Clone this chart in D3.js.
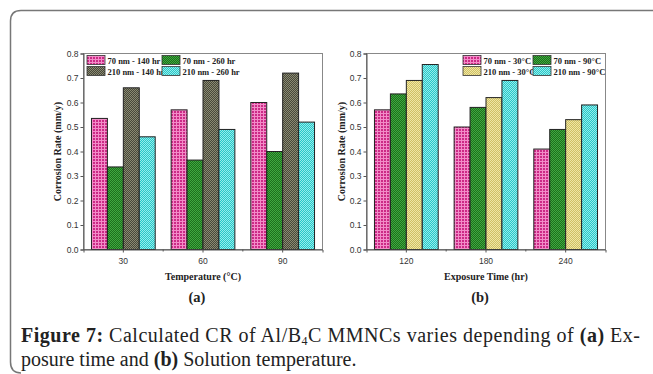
<!DOCTYPE html>
<html>
<head>
<meta charset="utf-8">
<script src="https://cdn.jsdelivr.net/npm/d3@7"></script>
<style>
  body { margin: 0; background: #fff; }
  svg { display: block; }
  .tick text { font-family: "Liberation Sans", Arial, sans-serif; font-size: 8.5px; fill: #333; }
  .ttl { font-family: "Liberation Serif", "Times New Roman", serif; font-weight: bold; fill: #222; }
</style>
</head>
<body>
<svg id="chart" width="653" height="374"></svg>
<script>
// chart (a): temperature
const tempCats = ["30", "60", "90"];
const tempSeries = ["70 nm - 140 hr", "70 nm - 260 hr", "210 nm - 140 hr", "210 nm - 260 hr"];
const tempValues = [
	[0.535, 0.57, 0.60],
	[0.337, 0.365, 0.40],
	[0.66, 0.69, 0.72],
	[0.46, 0.49, 0.52]
];

// chart (b): exposure time
const timeCats = ["120", "180", "240"];
const timeSeries = ["70 nm - 30°C", "70 nm - 90°C", "210 nm - 30°C", "210 nm - 90°C"];
const timeValues = [
	[0.57, 0.50, 0.41],
	[0.635, 0.58, 0.49],
	[0.69, 0.62, 0.53],
	[0.755, 0.69, 0.59]
];

const yTicks = [0, 0.1, 0.2, 0.3, 0.4, 0.5, 0.6, 0.7, 0.8];

const svg = d3.select("#chart");
const defs = svg.append("defs");

// checker / grid fills, roughly like the Origin patterns
function checker(id, a, b) {
	const p = defs.append("pattern").attr("id", id)
		.attr("patternUnits", "userSpaceOnUse").attr("width", 2).attr("height", 2);
	p.append("rect").attr("width", 2).attr("height", 2).attr("fill", a);
	p.append("rect").attr("width", 1).attr("height", 1).attr("fill", b);
	p.append("rect").attr("x", 1).attr("y", 1).attr("width", 1).attr("height", 1).attr("fill", b);
}
function grid(id, bg, line) {
	const p = defs.append("pattern").attr("id", id)
		.attr("patternUnits", "userSpaceOnUse").attr("width", 3).attr("height", 3);
	p.append("rect").attr("width", 3).attr("height", 3).attr("fill", line);
	p.append("rect").attr("width", 2).attr("height", 2).attr("fill", bg);
}
grid("pPink", "#cc2a86", "#f28cc8");
checker("pGreen", "#1c701c", "#40a840");
checker("pDark", "#48483a", "#8a8a72");
checker("pCyan", "#28c8c8", "#94ecec");
checker("pYellow", "#cfc064", "#efe6a4");

// outer frame
svg.append("path")
	.attr("d", "M653,10.5 H21 Q10.5,10.5 10.5,21 V362 Q10.5,373 21,373")
	.attr("fill", "none").attr("stroke", "#777").attr("stroke-width", 1.5);

function drawPanel(opt) {
	const { x0, x1, y0, y1, cats, series, values, fills } = opt;

	const x = d3.scaleBand().domain(cats).range([x0, x1]).paddingInner(0.2).paddingOuter(0.1);
	const xs = d3.scaleBand().domain(d3.range(series.length)).range([0, x.bandwidth()]);
	const y = d3.scaleLinear().domain([0, 0.8]).range([y1, y0]);

	const g = svg.append("g");

	// plot frame
	g.append("rect")
		.attr("x", x0).attr("y", y0).attr("width", x1 - x0).attr("height", y1 - y0)
		.attr("fill", "none").attr("stroke", "#888").attr("stroke-width", 1);

	// bars
	series.forEach((s, si) => {
		g.append("g").selectAll("rect")
			.data(cats.map((c, ci) => ({ cat: c, value: values[si][ci] })))
			.enter()
			.append("rect")
			.attr("x", d => x(d.cat) + xs(si))
			.attr("y", d => y(d.value))
			.attr("width", xs.bandwidth())
			.attr("height", d => y(0) - y(d.value))
			.attr("fill", `url(#${fills[si]})`)
			.attr("stroke", "#222")
			.attr("stroke-width", 1);
	});

	// y axis
	const ya = g.append("g")
		.attr("transform", `translate(${x0},0)`)
		.call(d3.axisLeft(y).tickValues(yTicks).tickFormat(d3.format(".1f")).tickSize(3).tickPadding(2));
	ya.select(".domain").attr("stroke", "#555");
	ya.selectAll(".tick line").attr("stroke", "#555");

	// x axis: labels at centres, minor ticks between groups
	const xa = g.append("g")
		.attr("transform", `translate(0,${y1})`)
		.call(d3.axisBottom(x).tickSize(3).tickPadding(5));
	xa.select(".domain").attr("stroke", "#555");
	xa.selectAll(".tick line").attr("stroke", "#555");
	const bounds = cats.slice(1).map(c => x(c) - x.step() * x.paddingInner() / 2);
	xa.selectAll("line.minor").data(bounds).enter()
		.append("line").attr("class", "minor")
		.attr("x1", d => d).attr("x2", d => d)
		.attr("y1", 0).attr("y2", 2)
		.attr("stroke", "#555");

	// axis titles
	svg.append("text").attr("class", "ttl")
		.attr("transform", `translate(${opt.yTitleX},${(y0 + y1) / 2}) rotate(-90)`)
		.attr("text-anchor", "middle").attr("font-size", 10)
		.text("Corrosion Rate (mm/y)");
	svg.append("text").attr("class", "ttl")
		.attr("x", (x0 + x1) / 2).attr("y", 280)
		.attr("text-anchor", "middle").attr("font-size", 10)
		.text(opt.xTitle);
	svg.append("text").attr("class", "ttl")
		.attr("x", (x0 + x1) / 2 - 6).attr("y", 302)
		.attr("text-anchor", "middle").attr("font-size", 14.5)
		.text(opt.tag);

	// legend, two columns by two rows
	const lg = svg.append("g");
	series.forEach((s, si) => {
		const col = si % 2, row = Math.floor(si / 2);
		const lx = opt.legX[col], ly = 55.5 + row * 11;
		lg.append("rect")
			.attr("x", lx).attr("y", ly).attr("width", 18).attr("height", 9)
			.attr("fill", `url(#${fills[si]})`).attr("stroke", "#333").attr("stroke-width", 0.8);
		lg.append("text").attr("class", "ttl")
			.attr("x", lx + 20.5).attr("y", ly + 8)
			.attr("font-size", 8.5)
			.text(s);
	});
}

drawPanel({
	x0: 83.5, x1: 322.5, y0: 53.5, y1: 249.5,
	cats: tempCats, series: tempSeries, values: tempValues,
	fills: ["pPink", "pGreen", "pDark", "pCyan"],
	yTitleX: 61, xTitle: "Temperature (°C)", tag: "(a)",
	legX: [87, 162]
});

drawPanel({
	x0: 366.5, x1: 605.5, y0: 53.5, y1: 249.5,
	cats: timeCats, series: timeSeries, values: timeValues,
	fills: ["pPink", "pGreen", "pYellow", "pCyan"],
	yTitleX: 344.5, xTitle: "Exposure Time (hr)", tag: "(b)",
	legX: [463, 533]
});

// caption
const cap = svg.append("g")
	.style("font-family", "'Liberation Serif', 'Times New Roman', serif")
	.style("font-size", "20px").style("fill", "#222");
const l1 = cap.append("text").attr("x", 21).attr("y", 342);
l1.append("tspan").attr("font-weight", "bold").text("Figure 7:");
l1.append("tspan").text(" Calculated CR of Al/B");
l1.append("tspan").attr("font-size", "12px").attr("dy", 3).text("4");
l1.append("tspan").attr("dy", -3).text("C MMNCs varies depending of ");
l1.append("tspan").attr("font-weight", "bold").text("(a)");
l1.append("tspan").text(" Ex-");
l1.attr("textLength", 619).attr("lengthAdjust", "spacing");

const l2 = cap.append("text").attr("x", 21).attr("y", 366);
l2.append("tspan").text("posure time and ");
l2.append("tspan").attr("font-weight", "bold").text("(b)");
l2.append("tspan").text(" Solution temperature.");
</script>
</body>
</html>
